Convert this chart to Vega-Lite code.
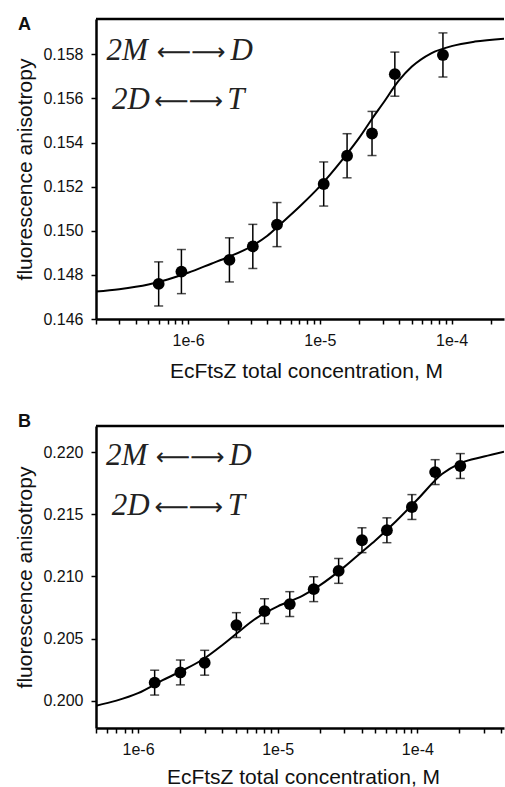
{
  "$schema": "https://vega.github.io/schema/vega-lite/v6.json",
  "padding": {"left": 14, "top": 15, "right": 0, "bottom": 0},
  "spacing": 31,
  "config": {
    "view": {"stroke": null},
    "axis": {
      "grid": false,
      "domainColor": "black",
      "domainWidth": 2.5,
      "tickColor": "black",
      "tickWidth": 1.5,
      "tickSize": 5,
      "labelColor": "#111",
      "titleColor": "#111",
      "labelFont": "Liberation Sans",
      "titleFont": "Liberation Sans",
      "labelFontSize": 16,
      "titleFontSize": 21,
      "titleFontWeight": "normal",
      "labelPadding": 8
    }
  },
  "datasets": {
    "curveA": [
      {"conc": 2e-7, "aniso": 0.147249},
      {"conc": 3e-7, "aniso": 0.147353},
      {"conc": 5e-7, "aniso": 0.147566},
      {"conc": 7e-7, "aniso": 0.147792},
      {"conc": 1e-6, "aniso": 0.148095},
      {"conc": 1.5e-6, "aniso": 0.148507},
      {"conc": 2e-6, "aniso": 0.148801},
      {"conc": 3e-6, "aniso": 0.149285},
      {"conc": 4e-6, "aniso": 0.149774},
      {"conc": 5e-6, "aniso": 0.150294},
      {"conc": 7e-6, "aniso": 0.15109},
      {"conc": 1e-5, "aniso": 0.152014},
      {"conc": 1.5e-5, "aniso": 0.153258},
      {"conc": 2e-5, "aniso": 0.154231},
      {"conc": 2.5e-5, "aniso": 0.15509},
      {"conc": 3e-5, "aniso": 0.155756},
      {"conc": 4e-5, "aniso": 0.156824},
      {"conc": 5e-5, "aniso": 0.157443},
      {"conc": 7e-5, "aniso": 0.158045},
      {"conc": 1e-4, "aniso": 0.158371},
      {"conc": 1.5e-4, "aniso": 0.158575},
      {"conc": 2.5e-4, "aniso": 0.15871}
    ],
    "ptsA": [
      {"conc": 5.98e-7, "aniso": 0.14759, "lo": 0.14659, "hi": 0.14859},
      {"conc": 8.9e-7, "aniso": 0.14815, "lo": 0.14715, "hi": 0.14915},
      {"conc": 2.06e-6, "aniso": 0.14868, "lo": 0.14768, "hi": 0.14968},
      {"conc": 3.1e-6, "aniso": 0.14929, "lo": 0.14829, "hi": 0.15029},
      {"conc": 4.73e-6, "aniso": 0.15028, "lo": 0.14928, "hi": 0.15128},
      {"conc": 1.07e-5, "aniso": 0.15212, "lo": 0.15112, "hi": 0.15312},
      {"conc": 1.61e-5, "aniso": 0.1534, "lo": 0.1524, "hi": 0.1544},
      {"conc": 2.49e-5, "aniso": 0.15441, "lo": 0.15341, "hi": 0.15541},
      {"conc": 3.71e-5, "aniso": 0.1571, "lo": 0.1561, "hi": 0.1581},
      {"conc": 8.6e-5, "aniso": 0.15797, "lo": 0.15697, "hi": 0.15897}
    ],
    "eqA": [
      {"sym": "2M", "kind": "species", "conc": 2.4e-7, "aniso": 0.15776},
      {"sym": "⟵", "kind": "arrowL", "conc": 1.057e-6, "aniso": 0.15776},
      {"sym": "⟶", "kind": "arrowR", "conc": 1.057e-6, "aniso": 0.15776},
      {"sym": "D", "kind": "species", "conc": 2.1e-6, "aniso": 0.15776},
      {"sym": "2D", "kind": "species", "conc": 2.65e-7, "aniso": 0.15551},
      {"sym": "⟵", "kind": "arrowL", "conc": 1.01e-6, "aniso": 0.15551},
      {"sym": "⟶", "kind": "arrowR", "conc": 1.01e-6, "aniso": 0.15551},
      {"sym": "T", "kind": "species", "conc": 1.98e-6, "aniso": 0.15551}
    ],
    "curveB": [
      {"conc": 5e-7, "aniso": 0.199598},
      {"conc": 7e-7, "aniso": 0.2},
      {"conc": 1e-6, "aniso": 0.200602},
      {"conc": 1.5e-6, "aniso": 0.201647},
      {"conc": 2e-6, "aniso": 0.202329},
      {"conc": 3e-6, "aniso": 0.203414},
      {"conc": 4e-6, "aniso": 0.204458},
      {"conc": 5e-6, "aniso": 0.205341},
      {"conc": 7e-6, "aniso": 0.206627},
      {"conc": 1e-5, "aniso": 0.20759},
      {"conc": 1.5e-5, "aniso": 0.208434},
      {"conc": 2e-5, "aniso": 0.209277},
      {"conc": 3e-5, "aniso": 0.210763},
      {"conc": 4e-5, "aniso": 0.211968},
      {"conc": 5e-5, "aniso": 0.212892},
      {"conc": 7e-5, "aniso": 0.214418},
      {"conc": 1e-4, "aniso": 0.216185},
      {"conc": 1.5e-4, "aniso": 0.218233},
      {"conc": 2e-4, "aniso": 0.219076},
      {"conc": 3e-4, "aniso": 0.219639},
      {"conc": 4.17e-4, "aniso": 0.220032}
    ],
    "ptsB": [
      {"conc": 1.315e-6, "aniso": 0.20145, "lo": 0.20045, "hi": 0.20245},
      {"conc": 2.01e-6, "aniso": 0.20227, "lo": 0.20127, "hi": 0.20327},
      {"conc": 3.0e-6, "aniso": 0.20305, "lo": 0.20205, "hi": 0.20405},
      {"conc": 5.06e-6, "aniso": 0.20608, "lo": 0.20508, "hi": 0.20708},
      {"conc": 8.05e-6, "aniso": 0.2072, "lo": 0.2062, "hi": 0.2082},
      {"conc": 1.22e-5, "aniso": 0.20777, "lo": 0.20677, "hi": 0.20877},
      {"conc": 1.81e-5, "aniso": 0.20897, "lo": 0.20797, "hi": 0.20997},
      {"conc": 2.73e-5, "aniso": 0.21044, "lo": 0.20944, "hi": 0.21144},
      {"conc": 4.01e-5, "aniso": 0.21291, "lo": 0.21191, "hi": 0.21391},
      {"conc": 6.05e-5, "aniso": 0.21371, "lo": 0.21271, "hi": 0.21471},
      {"conc": 9.14e-5, "aniso": 0.21558, "lo": 0.21458, "hi": 0.21658},
      {"conc": 1.34e-4, "aniso": 0.21839, "lo": 0.21739, "hi": 0.21939},
      {"conc": 2.03e-4, "aniso": 0.21888, "lo": 0.21788, "hi": 0.21988}
    ],
    "eqB": [
      {"sym": "2M", "kind": "species", "conc": 5.9e-7, "aniso": 0.21893},
      {"sym": "⟵", "kind": "arrowL", "conc": 2.36e-6, "aniso": 0.21893},
      {"sym": "⟶", "kind": "arrowR", "conc": 2.36e-6, "aniso": 0.21893},
      {"sym": "D", "kind": "species", "conc": 4.5e-6, "aniso": 0.21893},
      {"sym": "2D", "kind": "species", "conc": 6.47e-7, "aniso": 0.21496},
      {"sym": "⟵", "kind": "arrowL", "conc": 2.31e-6, "aniso": 0.21496},
      {"sym": "⟶", "kind": "arrowR", "conc": 2.31e-6, "aniso": 0.21496},
      {"sym": "T", "kind": "species", "conc": 4.39e-6, "aniso": 0.21496}
    ]
  },
  "vconcat": [
    {
      "width": 408,
      "height": 300,
      "title": {"text": "A", "anchor": "start", "fontSize": 18, "fontWeight": "bold", "font": "Liberation Sans", "offset": -16, "dx": 3, "color": "#111"},
      "layer": [
        {
          "data": {"name": "curveA"},
          "mark": {"type": "line", "color": "black", "strokeWidth": 2, "interpolate": "monotone", "clip": true},
          "encoding": {
            "x": {"field": "conc", "type": "quantitative", "title": "EcFtsZ total concentration, M",
              "scale": {"type": "log", "domain": [2e-7, 2.5e-4], "nice": false},
              "axis": {"values": [2e-7, 3e-7, 4e-7, 5e-7, 6e-7, 7e-7, 8e-7, 9e-7, 1e-6, 2e-6, 3e-6, 4e-6, 5e-6, 6e-6, 7e-6, 8e-6, 9e-6, 1e-5, 2e-5, 3e-5, 4e-5, 5e-5, 6e-5, 7e-5, 8e-5, 9e-5, 1e-4, 2e-4],
                "labelExpr": "datum.value == 0.000001 ? '1e-6' : datum.value == 0.00001 ? '1e-5' : datum.value == 0.0001 ? '1e-4' : ''",
                "titlePadding": 12, "titleX": 210, "labelFlush": false}},
            "y": {"field": "aniso", "type": "quantitative", "title": "fluorescence anisotropy",
              "scale": {"domain": [0.146, 0.1596], "zero": false, "nice": false},
              "axis": {"values": [0.146, 0.148, 0.15, 0.152, 0.154, 0.156, 0.158], "format": ".3f", "titlePadding": 7}}
          }
        },
        {
          "data": {"values": [{}]},
          "mark": {"type": "rule", "color": "black", "strokeWidth": 2.5},
          "encoding": {"y": {"datum": 0.1596, "type": "quantitative"}}
        },
        {
          "data": {"name": "ptsA"},
          "mark": {"type": "errorbar", "ticks": true, "size": 9, "thickness": 1.5, "color": "black"},
          "encoding": {
            "x": {"field": "conc", "type": "quantitative", "title": "EcFtsZ total concentration, M"},
            "y": {"field": "lo", "type": "quantitative", "title": "fluorescence anisotropy"},
            "y2": {"field": "hi"}
          }
        },
        {
          "data": {"name": "ptsA"},
          "mark": {"type": "point", "filled": true, "size": 140, "color": "black", "opacity": 1},
          "encoding": {
            "x": {"field": "conc", "type": "quantitative", "title": "EcFtsZ total concentration, M"},
            "y": {"field": "aniso", "type": "quantitative", "title": "fluorescence anisotropy"}
          }
        },
        {
          "data": {"name": "eqA"},
          "transform": [{"filter": "datum.kind == 'species'"}],
          "mark": {"type": "text", "align": "left", "baseline": "alphabetic", "font": "Liberation Serif", "fontStyle": "italic", "fontSize": 31, "color": "#222"},
          "encoding": {
            "x": {"field": "conc", "type": "quantitative", "title": "EcFtsZ total concentration, M"},
            "y": {"field": "aniso", "type": "quantitative", "title": "fluorescence anisotropy"},
            "text": {"field": "sym"}
          }
        },
        {
          "data": {"name": "eqA"},
          "transform": [{"filter": "datum.kind == 'arrowL'"}],
          "mark": {"type": "text", "align": "right", "baseline": "alphabetic", "font": "DejaVu Sans", "fontSize": 24, "color": "#222"},
          "encoding": {
            "x": {"field": "conc", "type": "quantitative", "title": "EcFtsZ total concentration, M"},
            "y": {"field": "aniso", "type": "quantitative", "title": "fluorescence anisotropy"},
            "text": {"field": "sym"}
          }
        },
        {
          "data": {"name": "eqA"},
          "transform": [{"filter": "datum.kind == 'arrowR'"}],
          "mark": {"type": "text", "align": "left", "baseline": "alphabetic", "font": "DejaVu Sans", "fontSize": 24, "color": "#222"},
          "encoding": {
            "x": {"field": "conc", "type": "quantitative", "title": "EcFtsZ total concentration, M"},
            "y": {"field": "aniso", "type": "quantitative", "title": "fluorescence anisotropy"},
            "text": {"field": "sym"}
          }
        }
      ]
    },
    {
      "width": 408,
      "height": 302,
      "title": {"text": "B", "anchor": "start", "fontSize": 18, "fontWeight": "bold", "font": "Liberation Sans", "offset": -6, "dx": 3, "color": "#111"},
      "layer": [
        {
          "data": {"name": "curveB"},
          "mark": {"type": "line", "color": "black", "strokeWidth": 2, "interpolate": "monotone", "clip": true},
          "encoding": {
            "x": {"field": "conc", "type": "quantitative", "title": "EcFtsZ total concentration, M",
              "scale": {"type": "log", "domain": [5e-7, 4.17e-4], "nice": false},
              "axis": {"values": [5e-7, 6e-7, 7e-7, 8e-7, 9e-7, 1e-6, 2e-6, 3e-6, 4e-6, 5e-6, 6e-6, 7e-6, 8e-6, 9e-6, 1e-5, 2e-5, 3e-5, 4e-5, 5e-5, 6e-5, 7e-5, 8e-5, 9e-5, 1e-4, 2e-4, 3e-4, 4e-4],
                "labelExpr": "datum.value == 0.000001 ? '1e-6' : datum.value == 0.00001 ? '1e-5' : datum.value == 0.0001 ? '1e-4' : ''",
                "titlePadding": 9, "titleX": 207, "labelFlush": false}},
            "y": {"field": "aniso", "type": "quantitative", "title": "fluorescence anisotropy",
              "scale": {"domain": [0.1978, 0.2221], "zero": false, "nice": false},
              "axis": {"values": [0.2, 0.205, 0.21, 0.215, 0.22], "format": ".3f", "titlePadding": 7}}
          }
        },
        {
          "data": {"values": [{}]},
          "mark": {"type": "rule", "color": "black", "strokeWidth": 2.5},
          "encoding": {"y": {"datum": 0.2221, "type": "quantitative"}}
        },
        {
          "data": {"name": "ptsB"},
          "mark": {"type": "errorbar", "ticks": true, "size": 9, "thickness": 1.5, "color": "black"},
          "encoding": {
            "x": {"field": "conc", "type": "quantitative", "title": "EcFtsZ total concentration, M"},
            "y": {"field": "lo", "type": "quantitative", "title": "fluorescence anisotropy"},
            "y2": {"field": "hi"}
          }
        },
        {
          "data": {"name": "ptsB"},
          "mark": {"type": "point", "filled": true, "size": 140, "color": "black", "opacity": 1},
          "encoding": {
            "x": {"field": "conc", "type": "quantitative", "title": "EcFtsZ total concentration, M"},
            "y": {"field": "aniso", "type": "quantitative", "title": "fluorescence anisotropy"}
          }
        },
        {
          "data": {"name": "eqB"},
          "transform": [{"filter": "datum.kind == 'species'"}],
          "mark": {"type": "text", "align": "left", "baseline": "alphabetic", "font": "Liberation Serif", "fontStyle": "italic", "fontSize": 31, "color": "#222"},
          "encoding": {
            "x": {"field": "conc", "type": "quantitative", "title": "EcFtsZ total concentration, M"},
            "y": {"field": "aniso", "type": "quantitative", "title": "fluorescence anisotropy"},
            "text": {"field": "sym"}
          }
        },
        {
          "data": {"name": "eqB"},
          "transform": [{"filter": "datum.kind == 'arrowL'"}],
          "mark": {"type": "text", "align": "right", "baseline": "alphabetic", "font": "DejaVu Sans", "fontSize": 24, "color": "#222"},
          "encoding": {
            "x": {"field": "conc", "type": "quantitative", "title": "EcFtsZ total concentration, M"},
            "y": {"field": "aniso", "type": "quantitative", "title": "fluorescence anisotropy"},
            "text": {"field": "sym"}
          }
        },
        {
          "data": {"name": "eqB"},
          "transform": [{"filter": "datum.kind == 'arrowR'"}],
          "mark": {"type": "text", "align": "left", "baseline": "alphabetic", "font": "DejaVu Sans", "fontSize": 24, "color": "#222"},
          "encoding": {
            "x": {"field": "conc", "type": "quantitative", "title": "EcFtsZ total concentration, M"},
            "y": {"field": "aniso", "type": "quantitative", "title": "fluorescence anisotropy"},
            "text": {"field": "sym"}
          }
        }
      ]
    }
  ]
}
